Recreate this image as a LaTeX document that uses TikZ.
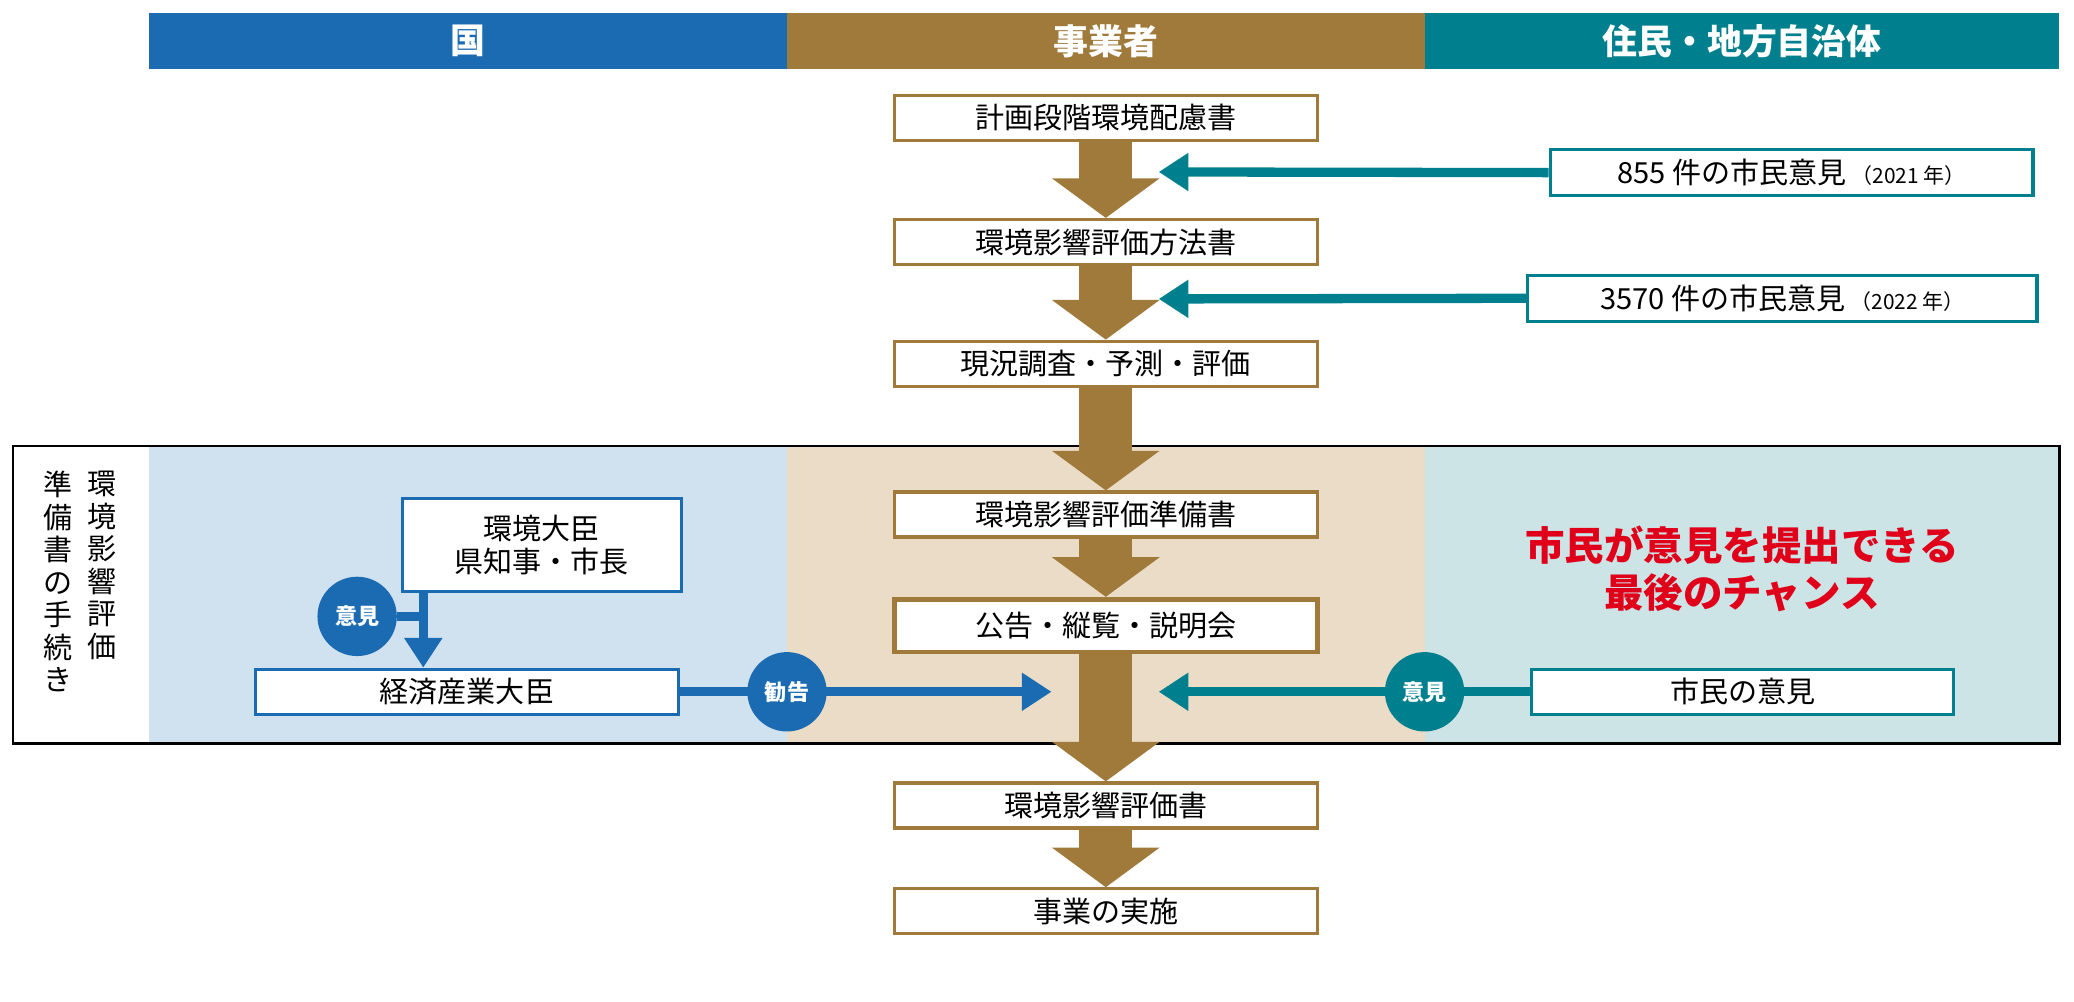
\documentclass[tikz,border=0pt]{standalone}
\usepackage{fontspec}
\setmainfont{Noto Sans CJK JP}
\usetikzlibrary{arrows.meta}
\definecolor{kuni}{HTML}{1B6BB3}
\definecolor{jig}{HTML}{A07A3A}
\definecolor{jum}{HTML}{00808E}
\definecolor{lkuni}{HTML}{D0E1F0}
\definecolor{ljig}{HTML}{EADCC6}
\definecolor{ljum}{HTML}{CDE4E6}
\definecolor{redt}{HTML}{E0001A}
\begin{document}
\begin{tikzpicture}[x=0.02cm,y=-0.02cm,
 hdr/.style={font=\fontsize{15}{15}\selectfont\bfseries,text=white,anchor=center},
 jbox/.style={draw=jig,line width=1.4pt,fill=white,minimum width=6.4cm,minimum height=0.68cm,inner sep=0pt,font=\fontsize{12.5}{14}\selectfont},
 tbox/.style={draw=jum,line width=1.4pt,fill=white,inner sep=0pt,font=\fontsize{12.5}{14}\selectfont},
 kbox/.style={draw=kuni,line width=1.4pt,fill=white,inner sep=0pt,font=\fontsize{12.5}{14}\selectfont},
 big/.style={jig,line width=0.8cm,-{Triangle[width=1.6cm,length=0.6cm]}},
 tarr/.style={jum,line width=4pt,-{Triangle[width=0.55cm,length=0.45cm]}},
 karr/.style={kuni,line width=4pt,-{Triangle[width=0.55cm,length=0.45cm]}},
 circ/.style={circle,minimum size=1.2cm,inner sep=0pt,text=white,font=\fontsize{9.5}{10}\selectfont\bfseries}]
\useasboundingbox (0,0) rectangle (1568,757);
% header
\fill[kuni] (113,10) rectangle (595,52);
\fill[jig] (595,10) rectangle (1077,52);
\fill[jum] (1077,10) rectangle (1557,52);
\node[hdr] (h1) at (354,31) {国};
\node[hdr] (h2) at (836,31) {事業者};
\node[hdr] (h3) at (1317,31) {住民・地方自治体};
% frame
\fill[lkuni] (113,337) rectangle (595,562);
\fill[ljig] (595,337) rectangle (1077,562);
\fill[ljum] (1077,337) rectangle (1557,562);
\draw[line width=1pt] (10,337) rectangle (1557,562);
\node[anchor=north,align=center,font=\fontsize{12.5}{14}\selectfont] (v1) at (77,350) {環\\境\\影\\響\\評\\価};
\node[anchor=north,align=center,font=\fontsize{12.5}{14}\selectfont] (v2) at (44,350) {準\\備\\書\\の\\手\\続\\き};
% main boxes
\node[jbox] (b1) at (836,89) {計画段階環境配慮書};
\node[jbox] (b2) at (836,183) {環境影響評価方法書};
\node[jbox] (b3) at (836,275) {現況調査・予測・評価};
\node[jbox] (b4) at (836,389) {環境影響評価準備書};
\node[jbox,minimum height=0.8cm,line width=2pt] (b5) at (836,473) {公告・縦覧・説明会};
\node[jbox] (b6) at (836,609) {環境影響評価書};
\node[jbox] (b7) at (836,689) {事業の実施};
\draw[big] (b1.south) -- (b2.north);
\draw[big] (b2.south) -- (b3.north);
\draw[big] (b3.south) -- (b4.north);
\draw[big] (b4.south) -- (b5.north);
\draw[big] (b5.south) -- (b6.north);
\draw[big] (b6.south) -- (b7.north);
% citizen opinions
\node[tbox,minimum width=7.3cm,minimum height=0.7cm] (c1) at (1354.5,130.5) {855 件の市民意見\,{\fontsize{9}{10}\selectfont（2021 年）}};
\node[tbox,minimum width=7.7cm,minimum height=0.7cm] (c2) at (1347.5,225.5) {3570 件の市民意見\,{\fontsize{9}{10}\selectfont（2022 年）}};
\coordinate (e1) at (876,130);
\coordinate (e2) at (876,226);
\draw[tarr] (c1.west) -- (e1);
\draw[tarr] (c2.west) -- (e2);
% government side
\node[kbox,minimum width=4.22cm,minimum height=1.4cm,align=center] (g1) at (409.5,412) {環境大臣\\県知事・市長};
\node[kbox,minimum width=6.4cm,minimum height=0.68cm] (g2) at (353,523) {経済産業大臣};
\draw[karr] (g1.south -| 320,0) -- (g2.north -| 320,0);
\node[circ,fill=kuni] (o1) at (270,466) {意見};
\draw[kuni,line width=4pt] (o1.east) -- (320,466);
\coordinate (e3) at (795,523);
\draw[karr] (g2.east) -- (e3);
\node[circ,fill=kuni] (o2) at (595,523) {勧告};
% citizen side
\node[tbox,minimum width=6.38cm,minimum height=0.68cm] (c3) at (1317.5,523) {市民の意見};
\coordinate (e4) at (876,523);
\draw[tarr] (c3.west) -- (e4);
\node[circ,fill=jum] (o3) at (1077,523) {意見};
\node[text=redt,align=center,font=\fontsize{17}{20}\selectfont\bfseries] (r) at (1317,430) {市民が意見を提出できる\\最後のチャンス};
\end{tikzpicture}
\end{document}
